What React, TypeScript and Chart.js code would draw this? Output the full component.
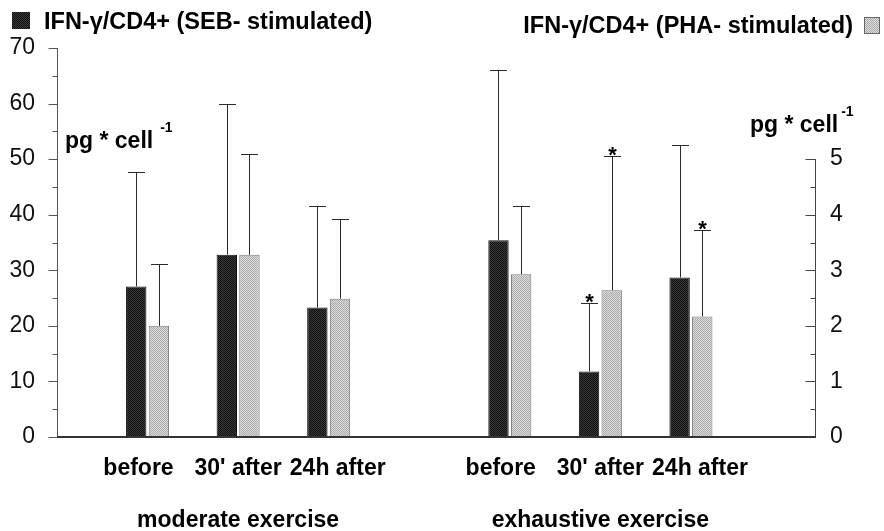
import React, { useEffect, useRef } from "react";
import { Chart, registerables } from "chart.js";

Chart.register(...registerables);

// ---------- data ----------
const timepoints = ["before", "30' after", "24h after"];
const exerciseGroups = ["moderate exercise", "exhaustive exercise"];

// SEB-stimulated IFN-γ/CD4+ (left axis)
const sebMean = [27.1, 32.8, 23.3, 35.4, 11.8, 28.7];
const sebSD = [20.5, 27.1, 18.3, 30.7, 12.3, 23.9];
const sebSignificant = [false, false, false, false, true, false];

// PHA-stimulated IFN-γ/CD4+ (right axis, pg * cell^-1)
const phaMean = [2.0, 3.28, 2.49, 2.93, 2.64, 2.17];
const phaSD = [1.11, 1.81, 1.43, 1.22, 2.42, 1.55];
const phaSignificant = [false, false, false, false, true, true];

const leftTicks = [0, 10, 20, 30, 40, 50, 60, 70];
const leftMinorTicks = [5, 15, 25, 35, 45, 55, 65];
const rightTicks = [0, 1, 2, 3, 4, 5];
const rightMinorTicks = [0.5, 1.5, 2.5, 3.5, 4.5];

const legendSEB = "IFN-γ/CD4+ (SEB- stimulated)";
const legendPHA = "IFN-γ/CD4+ (PHA- stimulated)";
const unitText = "pg * cell";
const unitExp = "-1";

// slot index along the x axis: one empty slot between exercise groups
const slotsPerGroup = timepoints.length + 1;
const slots: number[] = [];
const slotLabels: string[] = [];
const labelSlots: number[] = [];
const LABEL_SPREAD = 1.1;
exerciseGroups.forEach((_, g) => {
  const centre = g * slotsPerGroup + (timepoints.length + 1) / 2;
  timepoints.forEach((t, i) => {
    const s = g * slotsPerGroup + i + 1;
    slots.push(s);
    slotLabels.push(t);
    labelSlots.push(centre + (s - centre) * LABEL_SPREAD);
  });
});

const FONT = "'Liberation Sans', Arial, Helvetica, sans-serif";

function makePattern(ctx: CanvasRenderingContext2D, a: string, b: string) {
  const cv = document.createElement("canvas");
  cv.width = 2;
  cv.height = 2;
  const c = cv.getContext("2d")!;
  c.fillStyle = a;
  c.fillRect(0, 0, 2, 2);
  c.fillStyle = b;
  c.fillRect(0, 0, 1, 1);
  c.fillRect(1, 1, 1, 1);
  return ctx.createPattern(cv, "repeat")!;
}

export default function App() {
  const ref = useRef<HTMLCanvasElement | null>(null);

  useEffect(() => {
    const canvas = ref.current!;
    const ctx0 = canvas.getContext("2d")!;
    const darkFill = makePattern(ctx0, "#3a3a3a", "#101010");
    const lightFill = makePattern(ctx0, "#dcdcdc", "#ababab");

    const overlay = {
      id: "overlay",
      afterDatasetsDraw(chart: any) {
        const ctx: CanvasRenderingContext2D = chart.ctx;
        const sets = [
          { meta: chart.getDatasetMeta(0), mean: sebMean, sd: sebSD, sig: sebSignificant, sc: chart.scales.y },
          { meta: chart.getDatasetMeta(1), mean: phaMean, sd: phaSD, sig: phaSignificant, sc: chart.scales.y1 },
        ];
        ctx.save();
        sets.forEach((s) => {
          s.meta.data.forEach((el: any, i: number) => {
            const top = Math.round(s.sc.getPixelForValue(s.mean[i] + s.sd[i])) + 0.5;
            const bx = Math.round(el.x) + 0.5;
            ctx.strokeStyle = "#2a2a2a";
            ctx.lineWidth = 1;
            ctx.beginPath();
            ctx.moveTo(bx, el.y);
            ctx.lineTo(bx, top);
            ctx.moveTo(bx - 8.5, top);
            ctx.lineTo(bx + 8.5, top);
            ctx.stroke();
            if (s.sig[i]) {
              ctx.fillStyle = "#000";
              ctx.font = `bold 22px ${FONT}`;
              ctx.textAlign = "center";
              ctx.textBaseline = "alphabetic";
              ctx.fillText("*", bx, top + 5.5);
            }
          });
        });
        ctx.restore();
      },
      afterDraw(chart: any) {
        const ctx: CanvasRenderingContext2D = chart.ctx;
        const y = chart.scales.y;
        const y1 = chart.scales.y1;
        const x = chart.scales.x;
        const ca = chart.chartArea;
        ctx.save();

        // left axis
        const lx = Math.round(ca.left) + 0.5;
        ctx.strokeStyle = "#555";
        ctx.lineWidth = 1;
        ctx.beginPath();
        ctx.moveTo(lx, y.getPixelForValue(leftTicks[leftTicks.length - 1]));
        ctx.lineTo(lx, y.getPixelForValue(0));
        leftTicks.forEach((v) => {
          const py = Math.round(y.getPixelForValue(v)) + 0.5;
          ctx.moveTo(lx - 9, py);
          ctx.lineTo(lx, py);
        });
        leftMinorTicks.forEach((v) => {
          const py = Math.round(y.getPixelForValue(v)) + 0.5;
          ctx.moveTo(lx - 5, py);
          ctx.lineTo(lx, py);
        });
        ctx.stroke();

        // right axis
        const rx = Math.round(ca.right) + 0.5;
        ctx.strokeStyle = "#444";
        ctx.beginPath();
        ctx.moveTo(rx, y1.getPixelForValue(rightTicks[rightTicks.length - 1]));
        ctx.lineTo(rx, y1.getPixelForValue(0));
        rightTicks.forEach((v) => {
          const py = Math.round(y1.getPixelForValue(v)) + 0.5;
          ctx.moveTo(rx - 10, py);
          ctx.lineTo(rx, py);
        });
        rightMinorTicks.forEach((v) => {
          const py = Math.round(y1.getPixelForValue(v)) + 0.5;
          ctx.moveTo(rx - 5, py);
          ctx.lineTo(rx, py);
        });
        ctx.stroke();

        // baseline
        ctx.strokeStyle = "#333";
        ctx.lineWidth = 2;
        ctx.beginPath();
        const by = Math.round(y.getPixelForValue(0));
        ctx.moveTo(ca.left, by);
        ctx.lineTo(ca.right + 1, by);
        ctx.stroke();

        // legend
        ctx.fillStyle = darkFill;
        ctx.fillRect(12, 12, 18, 17);
        ctx.fillStyle = "#000";
        ctx.font = `bold 23.5px ${FONT}`;
        ctx.textBaseline = "alphabetic";
        ctx.textAlign = "left";
        ctx.fillText(legendSEB, 44, 29);

        ctx.fillStyle = lightFill;
        ctx.fillRect(864, 17, 15, 16);
        ctx.strokeStyle = "#666";
        ctx.lineWidth = 1;
        ctx.strokeRect(864.5, 17.5, 15, 16);
        ctx.fillStyle = "#000";
        ctx.textAlign = "right";
        ctx.fillText(legendPHA, 853, 33);

        // unit labels
        ctx.textAlign = "left";
        ctx.font = `bold 23px ${FONT}`;
        ctx.fillText(unitText, 65, 148);
        let w = ctx.measureText(unitText).width;
        ctx.font = `bold 14px ${FONT}`;
        ctx.fillText(unitExp, 65 + w + 7, 132);

        ctx.font = `bold 23px ${FONT}`;
        ctx.fillText(unitText, 750, 132);
        w = ctx.measureText(unitText).width;
        ctx.font = `bold 14px ${FONT}`;
        ctx.fillText(unitExp, 750 + w + 3, 116);

        // exercise group labels
        ctx.font = `bold 23px ${FONT}`;
        ctx.textAlign = "center";
        ctx.textBaseline = "middle";
        exerciseGroups.forEach((g, gi) => {
          const mid = gi * slotsPerGroup + (timepoints.length + 1) / 2;
          ctx.fillText(g, x.getPixelForValue(mid), 521);
        });

        ctx.restore();
      },
    };

    const chart = new Chart(canvas, {
      type: "bar",
      data: {
        datasets: [
          {
            label: legendSEB,
            data: slots.map((s, i) => ({ x: s, y: sebMean[i] })),
            yAxisID: "y",
            backgroundColor: darkFill,
            borderColor: "#111",
            borderWidth: 1,
          },
          {
            label: legendPHA,
            data: slots.map((s, i) => ({ x: s, y: phaMean[i] })),
            yAxisID: "y1",
            backgroundColor: lightFill,
            borderColor: "#777",
            borderWidth: 1,
          },
        ],
      },
      options: {
        responsive: false,
        animation: false,
        devicePixelRatio: 1,
        categoryPercentage: 0.5,
        barPercentage: 0.9,
        layout: { padding: { top: 48, left: 0, right: 0, bottom: 0 } },
        plugins: { legend: { display: false }, tooltip: { enabled: false } },
        scales: {
          x: {
            type: "linear",
            min: 0,
            max: 8.37,
            offset: false,
            grid: { display: false, drawTicks: false },
            border: { display: false },
            afterBuildTicks: (s: any) => {
              s.ticks = labelSlots.map((v) => ({ value: v }));
            },
            afterFit: (s: any) => {
              s.height = 94;
            },
            ticks: {
              autoSkip: false,
              maxRotation: 0,
              padding: 18,
              color: "#000",
              font: { family: FONT, size: 23, weight: "bold" },
              callback: (_v: any, i: number) => slotLabels[i],
            },
          },
          y: {
            position: "left",
            min: 0,
            max: 70,
            grid: { display: false, drawTicks: false },
            border: { display: false },
            afterBuildTicks: (s: any) => {
              s.ticks = leftTicks.map((v) => ({ value: v }));
            },
            afterFit: (s: any) => {
              s.width = 57;
            },
            ticks: {
              padding: 22,
              color: "#111",
              font: { family: FONT, size: 23 },
            },
          },
          y1: {
            position: "right",
            min: 0,
            max: 7,
            grid: { display: false, drawTicks: false },
            border: { display: false },
            afterBuildTicks: (s: any) => {
              s.ticks = rightTicks.map((v) => ({ value: v }));
            },
            afterFit: (s: any) => {
              s.width = 69;
            },
            ticks: {
              padding: 15,
              color: "#111",
              font: { family: FONT, size: 23 },
            },
          },
        },
      } as any,
      plugins: [overlay],
    });

    return () => chart.destroy();
  }, []);

  return (
    <div style={{ position: "absolute", left: 0, top: 0, width: 884, height: 531, background: "#fff" }}>
      <canvas ref={ref} width={884} height={531} style={{ display: "block" }} />
    </div>
  );
}
